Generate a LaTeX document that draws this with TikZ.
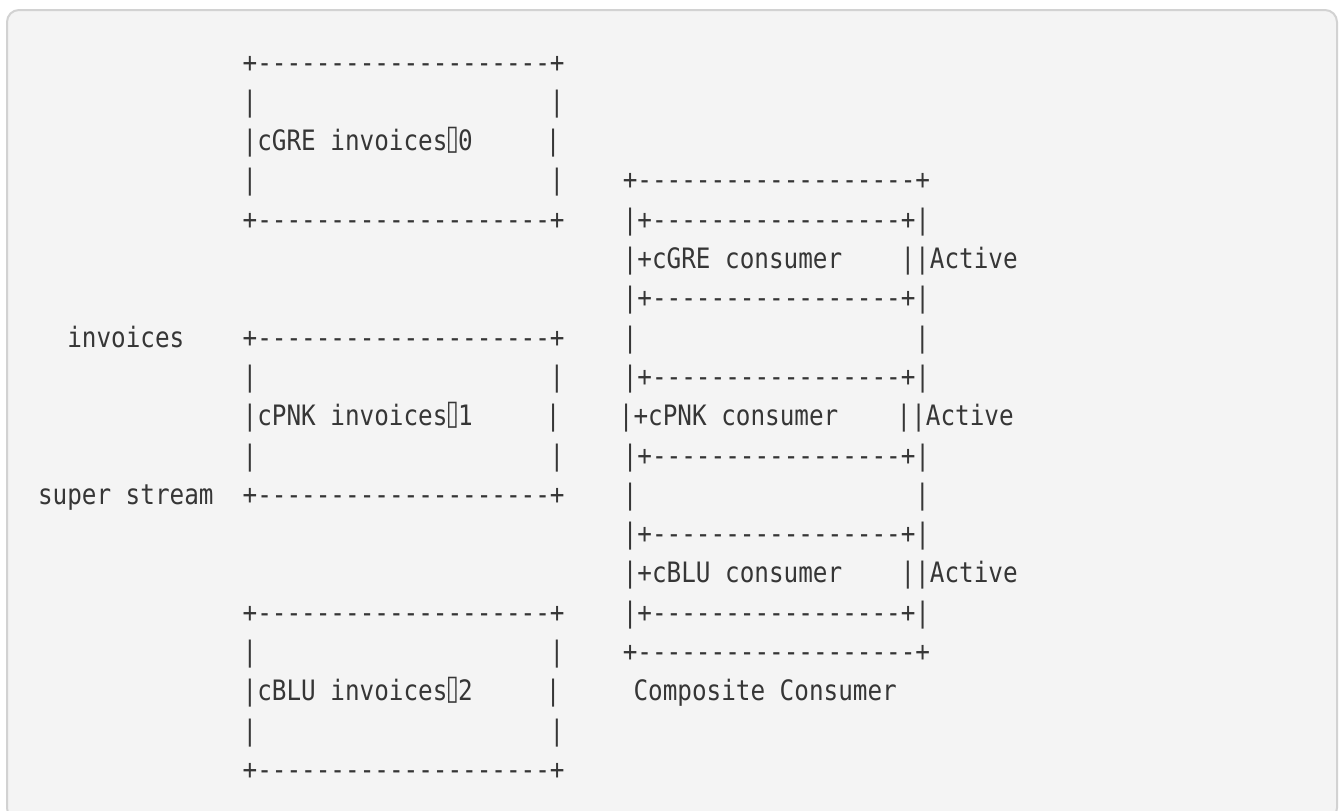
\documentclass[tikz,border=0pt]{standalone}
\usepackage{fontspec}
\newfontfamily\asciimono[FakeStretch=0.865,Ligatures=TeXOff]{DejaVu Sans Mono}
\definecolor{ink}{HTML}{363636}
\definecolor{panel}{HTML}{F4F4F4}
\definecolor{rim}{HTML}{D2D2D2}
\tikzset{
  ln/.style={inner sep=0pt, outer sep=0pt, anchor=base west, text=ink,
    font=\asciimono\fontsize{14.05pt}{16pt}\selectfont},
  tofu/.style={ln, anchor=base},
}
\newcommand\seg[4]{\node[ln] (#1) at ({242.7+14.62*(#2)},{72+39.3*(#3)}) {#4};}
\newcommand\tofuat[2]{\node[tofu] (#1) at (452.5,{72+39.3*(#2)}) {⌷};}
\begin{document}
\begin{tikzpicture}[x=0.5pt,y=-0.5pt]
\useasboundingbox (0,0) rectangle (1340,810);
\fill[white] (0,0) rectangle (1340,810);
\draw[rim, line width=1pt, fill=panel, rounded corners=6pt] (7,10) rectangle (1337,820);
% row 0
\seg{p0a}{0}{0}{+--------------------+}
% row 1
\seg{p1a}{0}{1}{|}\seg{p1b}{21}{1}{|}
% row 2
\seg{p2a}{0}{2}{|cGRE}\seg{p2b}{6}{2}{invoices}\tofuat{p2c}{2}
\seg{p2d}{14.733}{2}{0}\seg{p2e}{20.733}{2}{|}
% row 3
\seg{p3a}{0}{3}{|}\seg{p3b}{21}{3}{|}\seg{p3c}{26}{3}{+-------------------+}
% row 4
\seg{p4a}{0}{4}{+--------------------+}\seg{p4b}{26}{4}{|+-----------------+|}
% row 5
\seg{p5a}{26}{5}{|+cGRE}\seg{p5b}{33}{5}{consumer}\seg{p5c}{45}{5}{||Active}
% row 6
\seg{p6a}{26}{6}{|+-----------------+|}
% row 7
\seg{p7a}{-12}{7}{invoices}\seg{p7b}{0}{7}{+--------------------+}
\seg{p7c}{26}{7}{|}\seg{p7d}{46}{7}{|}
% row 8
\seg{p8a}{0}{8}{|}\seg{p8b}{21}{8}{|}\seg{p8c}{26}{8}{|+-----------------+|}
% row 9
\seg{p9a}{0}{9}{|cPNK}\seg{p9b}{6}{9}{invoices}\tofuat{p9c}{9}
\seg{p9d}{14.733}{9}{1}\seg{p9e}{20.733}{9}{|}
\seg{p9f}{25.733}{9}{|+cPNK}\seg{p9g}{32.733}{9}{consumer}\seg{p9h}{44.733}{9}{||Active}
% row 10
\seg{p10a}{0}{10}{|}\seg{p10b}{21}{10}{|}\seg{p10c}{26}{10}{|+-----------------+|}
% row 11
\seg{p11a}{-14}{11}{super}\seg{p11b}{-8}{11}{stream}\seg{p11c}{0}{11}{+--------------------+}
\seg{p11d}{26}{11}{|}\seg{p11e}{46}{11}{|}
% row 12
\seg{p12a}{26}{12}{|+-----------------+|}
% row 13
\seg{p13a}{26}{13}{|+cBLU}\seg{p13b}{33}{13}{consumer}\seg{p13c}{45}{13}{||Active}
% row 14
\seg{p14a}{0}{14}{+--------------------+}\seg{p14b}{26}{14}{|+-----------------+|}
% row 15
\seg{p15a}{0}{15}{|}\seg{p15b}{21}{15}{|}\seg{p15c}{26}{15}{+-------------------+}
% row 16
\seg{p16a}{0}{16}{|cBLU}\seg{p16b}{6}{16}{invoices}\tofuat{p16c}{16}
\seg{p16d}{14.733}{16}{2}\seg{p16e}{20.733}{16}{|}
\seg{p16f}{26.733}{16}{Composite}\seg{p16g}{36.733}{16}{Consumer}
% row 17
\seg{p17a}{0}{17}{|}\seg{p17b}{21}{17}{|}
% row 18
\seg{p18a}{0}{18}{+--------------------+}
\end{tikzpicture}
\end{document}
